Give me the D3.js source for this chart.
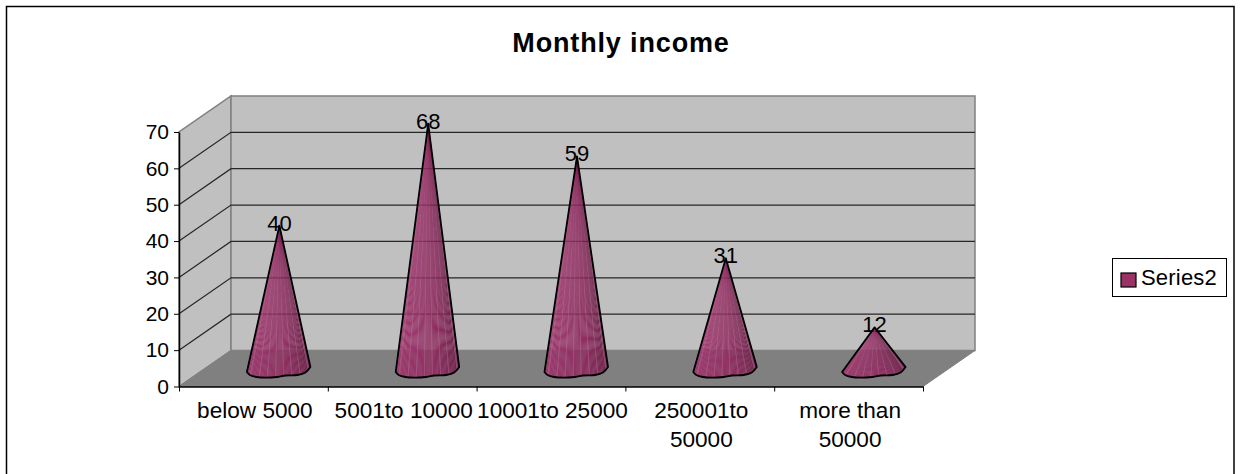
<!DOCTYPE html>
<html>
<head>
<meta charset="utf-8">
<title>Monthly income</title>
<script src="https://cdn.jsdelivr.net/npm/d3@7"></script>
<style>
    html, body { margin: 0; padding: 0; background: #fff; }
    svg { display: block; }
    text { font-family: "Liberation Sans", Arial, sans-serif; fill: #000; }
</style>
</head>
<body>
<div id="chart"></div>
<script>
const titleText = "Monthly income";
const seriesName = "Series2";
const categories = ["below 5000", "5001to 10000", "10001to 25000", "250001to 50000", "more than 50000"];
const categoryLines = [["below 5000"], ["5001to 10000"], ["10001to 25000"], ["250001to", "50000"], ["more than", "50000"]];
const values = [40, 68, 59, 31, 12];
const yTicks = [0, 10, 20, 30, 40, 50, 60, 70];

const width = 1243,
    height = 474,
    fontSize = 22,
    depthX = 52,
    depthY = -36,
    wallColour = "#c0c0c0",
    floorColour = "#808080",
    edgeColour = "#808080",
    gridColour = "#262626",
    coneColour = "#993366";

const svg = d3.select("#chart").append("svg")
    .attr("width", width)
    .attr("height", height);

const x = d3.scaleBand().domain(categories).range([179, 923]),
    y = d3.scaleLinear().domain([0, 70]).range([386.5, 132]);

// chart frame, runs off the bottom of the picture
svg.append("rect")
    .attr("x", 6.5)
    .attr("y", 6.5)
    .attr("width", 1227.5)
    .attr("height", 480)
    .attr("fill", "#fff")
    .attr("stroke", "#000")
    .attr("stroke-width", 1.5);

svg.append("text")
    .attr("x", 621)
    .attr("y", 52)
    .attr("text-anchor", "middle")
    .style("font-size", "27px")
    .style("font-weight", "bold")
    .style("letter-spacing", "0.85px")
    .text(titleText);

const [x0, x1] = x.range(),
    y0 = y(0),
    yTop = y(70),
    poly = pts => pts.map(p => p.join(",")).join(" ");

// walls and floor
svg.append("polygon")
    .attr("points", poly([[x0, y0], [x0 + depthX, y0 + depthY], [x0 + depthX, yTop + depthY], [x0, yTop]]))
    .attr("fill", wallColour)
    .attr("stroke", edgeColour)
    .attr("stroke-width", 1.5);
svg.append("polygon")
    .attr("points", poly([[x0 + depthX, y0 + depthY], [x1 + depthX, y0 + depthY], [x1 + depthX, yTop + depthY], [x0 + depthX, yTop + depthY]]))
    .attr("fill", wallColour)
    .attr("stroke", edgeColour)
    .attr("stroke-width", 1.5);
svg.append("polygon")
    .attr("points", poly([[x0, y0], [x1, y0], [x1 + depthX, y0 + depthY], [x0 + depthX, y0 + depthY]]))
    .attr("fill", floorColour)
    .attr("stroke", edgeColour)
    .attr("stroke-width", 1);

// gridlines, wrapping from the side wall on to the back wall
svg.append("g").selectAll("path")
    .data(yTicks.filter(d => d > 0 && d < 70))
    .join("path")
    .attr("d", d => `M${x0},${y(d)}L${x0 + depthX},${y(d) + depthY}L${x1 + depthX},${y(d) + depthY}`)
    .attr("fill", "none")
    .attr("stroke", gridColour)
    .attr("stroke-width", 1.2);

// axes
const yAxis = svg.append("g")
    .attr("transform", `translate(${x0},0)`)
    .call(d3.axisLeft(y).tickValues(yTicks).tickSize(5).tickSizeOuter(0).tickPadding(5).tickFormat(d3.format("d")));
const edges = d3.scaleLinear().domain([0, categories.length]).range(x.range());
const xAxis = svg.append("g")
    .attr("transform", `translate(0,${y0})`)
    .call(d3.axisBottom(edges).tickValues(d3.range(categories.length + 1)).tickSize(5).tickSizeOuter(0).tickFormat(""));
[yAxis, xAxis].forEach(a => {
    a.selectAll("path.domain").attr("stroke", "#000").attr("stroke-width", 1.5);
    a.selectAll(".tick line").attr("stroke", "#000").attr("stroke-width", 1);
});
yAxis.selectAll("text").attr("fill", "#000").style("font-size", "21px").style("font-family", '"Liberation Sans", Arial, sans-serif');

svg.append("g").selectAll("text")
    .data(categories)
    .join("text")
    .attr("text-anchor", "middle")
    .style("font-size", "22.6px")
    .each(function (d, i) {
        d3.select(this).selectAll("tspan")
            .data(categoryLines[i])
            .join("tspan")
            .attr("x", x(d) + x.bandwidth() / 2 + 1.5)
            .attr("y", (l, j) => 418 + j * 28.5)
            .text(l => l);
    });

// base outline of a cone, as offsets from the cone's axis foot
const baseShape = [[-32.5, 3], [-29.5, 6], [-23, 8], [-2, 8], [6, 6.5], [18, 6], [26, 3.5], [31, -2]];
const outline = d3.line().curve(d3.curveCatmullRom);
const shade = d3.scaleLinear().domain([0, 0.7, 1]).range(["#a03a70", "#8e2e60", "#74264f"]);

const cones = svg.append("g").selectAll("g")
    .data(values)
    .join("g");

cones.each(function (v, i) {
    const g = d3.select(this),
        cx = x(categories[i]) + x.bandwidth() / 2 + depthX / 2,
        footY = y0 + depthY / 2 + 0.5,
        apex = [cx, y(v) + depthY / 2 + 2.5];

    // fan of thin facets from the apex, every few lighter to give the streaked look
    const rim = [];
    baseShape.slice(1).forEach((p, k) => {
        const a = baseShape[k],
            steps = Math.max(1, Math.round((p[0] - a[0]) / 1.2));
        d3.range(steps).forEach(s => rim.push([a[0] + (p[0] - a[0]) * s / steps, a[1] + (p[1] - a[1]) * s / steps]));
    });
    rim.push(baseShape[baseShape.length - 1]);

    g.selectAll("polygon")
        .data(d3.pairs(rim))
        .join("polygon")
        .attr("points", ([a, b]) => poly([apex, [cx + a[0], footY + a[1]], [cx + b[0], footY + b[1]]]))
        .attr("fill", (d, k) => {
            const c = shade(k / (rim.length - 2));
            return k % 7 === 3 ? d3.interpolateRgb(c, "#c878a4")(0.4) : c;
        })
        .attr("stroke", (d, k) => shade(k / (rim.length - 2)))
        .attr("stroke-width", 0.1);

    const basePath = outline(baseShape.map(p => [cx + p[0], footY + p[1]]));
    g.append("path")
        .attr("d", `M${apex[0]},${apex[1]}L${cx + baseShape[0][0]},${footY + baseShape[0][1]}` + basePath.replace(/^M[^C]*/, "") + "Z")
        .attr("fill", "none")
        .attr("stroke", "#000")
        .attr("stroke-width", 1.8)
        .attr("stroke-linejoin", "round");

    g.append("text")
        .attr("x", cx)
        .attr("y", apex[1] + 5)
        .attr("text-anchor", "middle")
        .style("font-size", fontSize + "px")
        .text(v);
});

// legend
const legend = svg.append("g");
legend.append("rect")
    .attr("x", 1112.5)
    .attr("y", 258.5)
    .attr("width", 114)
    .attr("height", 38)
    .attr("fill", "#fff")
    .attr("stroke", "#000")
    .attr("stroke-width", 1);
legend.append("rect")
    .attr("x", 1121)
    .attr("y", 273)
    .attr("width", 15)
    .attr("height", 14)
    .attr("fill", coneColour)
    .attr("stroke", "#000")
    .attr("stroke-width", 1.2);
legend.append("text")
    .attr("x", 1141)
    .attr("y", 285)
    .style("font-size", fontSize + "px")
    .style("letter-spacing", "0.2px")
    .text(seriesName);
</script>
</body>
</html>
